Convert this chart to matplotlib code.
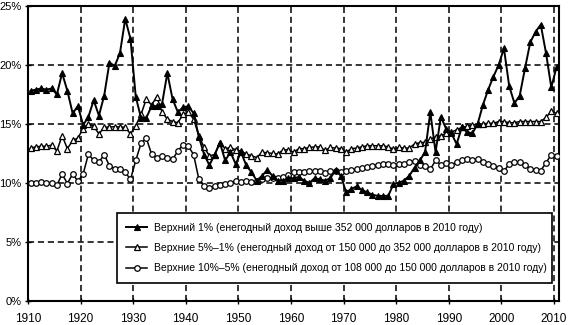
import numpy as np
import matplotlib
matplotlib.use('Agg')
from matplotlib import pyplot as plt

plt.rcParams['font.family'] = ['Liberation Sans Narrow', 'Liberation Sans', 'DejaVu Sans']

years = np.arange(1910, 2011)

top1 = [17.8, 17.9, 18.0, 17.9, 18.0, 17.5, 19.3, 17.8, 15.9, 16.5,
        14.9, 15.6, 17.0, 15.7, 17.4, 20.2, 19.9, 21.0, 23.9, 22.2,
        17.3, 15.5, 15.5, 16.5, 16.5, 16.7, 19.3, 17.1, 16.0, 16.4,
        16.5, 15.9, 13.9, 12.4, 11.5, 12.4, 13.4, 11.9, 12.6, 11.6,
        12.6, 11.5, 10.9, 10.2, 10.6, 11.1, 10.6, 10.2, 10.2, 10.4,
        10.4, 10.5, 10.2, 10.0, 10.4, 10.3, 10.2, 10.4, 11.1, 10.6,
        9.2, 9.5, 9.7, 9.4, 9.2, 9.0, 8.9, 8.9, 8.9, 9.9,
        10.0, 10.2, 10.6, 11.3, 11.9, 12.6, 16.0, 12.6, 15.6, 14.6,
        14.2, 13.3, 14.7, 14.3, 14.2, 15.0, 16.6, 17.9, 19.0, 20.0,
        21.4, 18.2, 16.75, 17.4, 19.7, 21.9, 22.8, 23.4, 21.0, 18.1,
        19.8]

top5_1 = [12.95, 13.05, 13.1, 13.1, 13.2, 12.7, 14.0, 12.9, 13.6, 13.8,
          14.6, 15.0, 14.8, 14.15, 14.7, 14.75, 14.75, 14.75, 14.7, 14.15,
          14.85, 15.8, 17.1, 16.6, 17.3, 16.0, 15.4, 15.2, 15.1, 15.8,
          16.0, 15.4, 14.0, 13.0, 12.3, 12.4, 13.4, 12.9, 13.0, 12.8,
          12.7, 12.45, 12.3, 12.15, 12.6, 12.55, 12.5, 12.45, 12.8, 12.8,
          12.6, 12.9, 12.9, 13.0, 13.05, 13.05, 12.75, 13.0, 12.95, 12.9,
          12.6, 12.9, 12.95, 13.05, 13.15, 13.15, 13.15, 13.15, 13.05, 12.85,
          13.0, 12.95, 12.95, 13.3, 13.4, 13.45, 13.7, 13.9, 14.0, 14.2,
          14.3, 14.5, 14.7, 14.8, 14.9, 14.95, 15.0, 15.05, 15.05, 15.2,
          15.2, 15.1, 15.1, 15.2, 15.2, 15.2, 15.2, 15.2, 15.55, 16.05,
          15.9]

top10_5 = [10.0, 10.0, 10.05, 10.0, 10.0, 9.8, 10.75, 9.95, 10.75, 10.15,
           10.75, 12.45, 11.9, 11.75, 12.4, 11.45, 11.2, 11.15, 10.9, 10.3,
           11.9, 13.35, 13.8, 12.45, 12.15, 12.3, 12.1, 12.0, 12.7, 13.25,
           13.1, 12.4, 10.3, 9.75, 9.6, 9.75, 9.85, 9.9, 10.0, 10.15,
           10.1, 10.15, 10.1, 10.15, 10.3, 10.4, 10.4, 10.4, 10.5, 10.7,
           10.95, 10.9, 10.95, 11.0, 11.0, 11.0, 10.8, 11.05, 11.0, 10.95,
           11.0, 11.1, 11.15, 11.25, 11.35, 11.4, 11.55, 11.6, 11.6, 11.55,
           11.6, 11.6, 11.75, 11.85, 11.55, 11.4, 11.15, 11.9, 11.55, 11.7,
           11.55, 11.75, 11.9, 12.0, 11.95, 12.0, 11.75, 11.6, 11.4, 11.3,
           11.0, 11.6, 11.8, 11.75, 11.5, 11.2, 11.1, 11.05, 11.7, 12.4,
           12.25]

labels = ['Верхний 1% (енегодный доход выше 352 000 долларов в 2010 году)',
          'Верхние 5%–1% (енегодный доход от 150 000 до 352 000 долларов в 2010 году)',
          'Верхние 10%–5% (енегодный доход от 108 000 до 150 000 долларов в 2010 году)']

x_ticks = np.arange(1910, 2011, 10)
y_ticks = np.arange(0, 26, 5)

fig = plt.figure(figsize=(5.7, 3.25), dpi=100)
ax = fig.add_axes([0.049, 0.074, 0.932, 0.908])

xs = years + 0.5
ax.plot(xs, top1, '-^', color='black', lw=1.4, ms=4.8, mfc='black', mec='black',
        mew=0.8, label=labels[0], zorder=5)
ax.plot(xs, top5_1, '-^', color='black', lw=1.1, ms=4.4, mfc='white', mec='black',
        mew=0.9, label=labels[1], zorder=4)
ax.plot(xs, top10_5, '-o', color='black', lw=1.1, ms=4.0, mfc='white', mec='black',
        mew=0.9, label=labels[2], zorder=4)

ax.set_xlim(1910, 2011)
ax.set_ylim(0, 25)
ax.set_xticks(x_ticks)
ax.set_yticks(y_ticks)
ax.set_yticklabels(['%d%%' % v for v in y_ticks])
ax.tick_params(direction='inout', length=5, width=1, colors='black')
ax.tick_params(axis='x', pad=6, labelsize=8.5)
ax.tick_params(axis='y', pad=2, labelsize=8)

for v in x_ticks[1:]:
    ax.axvline(v, color='black', lw=1.1, ls=(0, (4, 2.5)), zorder=1)
for v in y_ticks[1:-1]:
    ax.axhline(v, color='black', lw=1.1, ls=(0, (4, 2.5)), zorder=1)

for s in ax.spines.values():
    s.set_linewidth(1.5)

leg = ax.legend(loc='lower left', bbox_to_anchor=(0.158, 0.044, 0.838, 0.24),
                mode='expand', fontsize=7.5, frameon=True, fancybox=False,
                edgecolor='black', framealpha=1, borderpad=0.9, labelspacing=1.0,
                handlelength=2.0, handletextpad=0.6)
leg.get_frame().set_linewidth(1.2)
leg.set_zorder(10)

fig.savefig('out.png', dpi=100)
